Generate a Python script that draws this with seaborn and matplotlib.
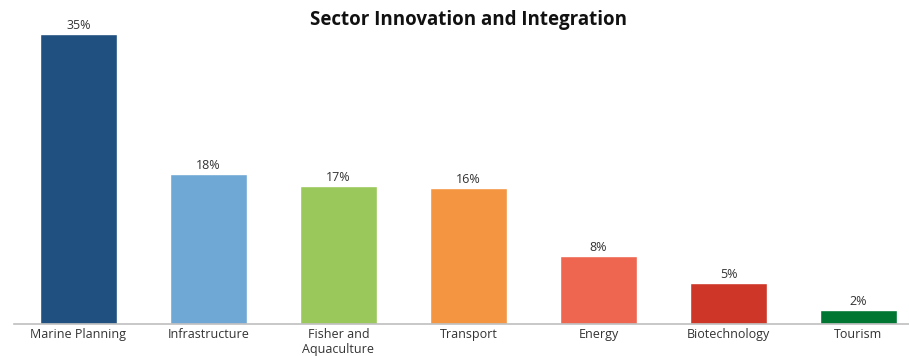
import matplotlib
matplotlib.use("Agg")
import matplotlib.pyplot as plt
import seaborn as sns
import pandas as pd

categories = ["Marine Planning", "Infrastructure", "Fisher and\nAquaculture", "Transport",
              "Energy", "Biotechnology", "Tourism"]
values = [35.0, 18.1, 16.7, 16.4, 8.2, 5.0, 1.7]
colors = ["#1F5080", "#6FA7D5", "#9BC85A", "#F39541", "#EE6550", "#CE3628", "#007632"]

sns.set_theme(style="white")
plt.rcParams['font.family'] = ['Open Sans', 'DejaVu Sans']

df = pd.DataFrame({"cat": categories, "val": values})

fig = plt.figure(figsize=(9.09, 3.56), dpi=100)
W, H = 909, 356
left, right, top, bottom = 13.5, 923.5, 10, 324
ax = fig.add_axes([left / W, 1 - bottom / H, (right - left) / W, (bottom - top) / H])

sns.barplot(data=df, x="cat", y="val", hue="cat", palette=colors, legend=False,
            width=0.59, ax=ax, saturation=1)

ax.set_ylim(0, (bottom - top) / (290 / 35))
ax.set_xlim(-0.5, len(categories) - 0.5)
for i, v in enumerate(values):
    ax.text(i, v + 0.2, f"{v:.0f}%", ha="center", va="bottom", fontsize=9, color="#333333")

for s in ["top", "right", "left"]:
    ax.spines[s].set_visible(False)
ax.spines["bottom"].set_color("#BFBFBF")
ax.spines["bottom"].set_linewidth(1.2)
ax.set_yticks([])
ax.set_xlabel("")
ax.set_ylabel("")
ax.tick_params(axis="x", length=0, pad=3, labelsize=9, labelcolor="#333333")

fig.text(469 / W, 1 - 20 / H, "Sector Innovation and Integration", ha="center", va="center",
         fontsize=13.5, fontweight="bold", color="#111111")

fig.savefig("out.png", dpi=100)
